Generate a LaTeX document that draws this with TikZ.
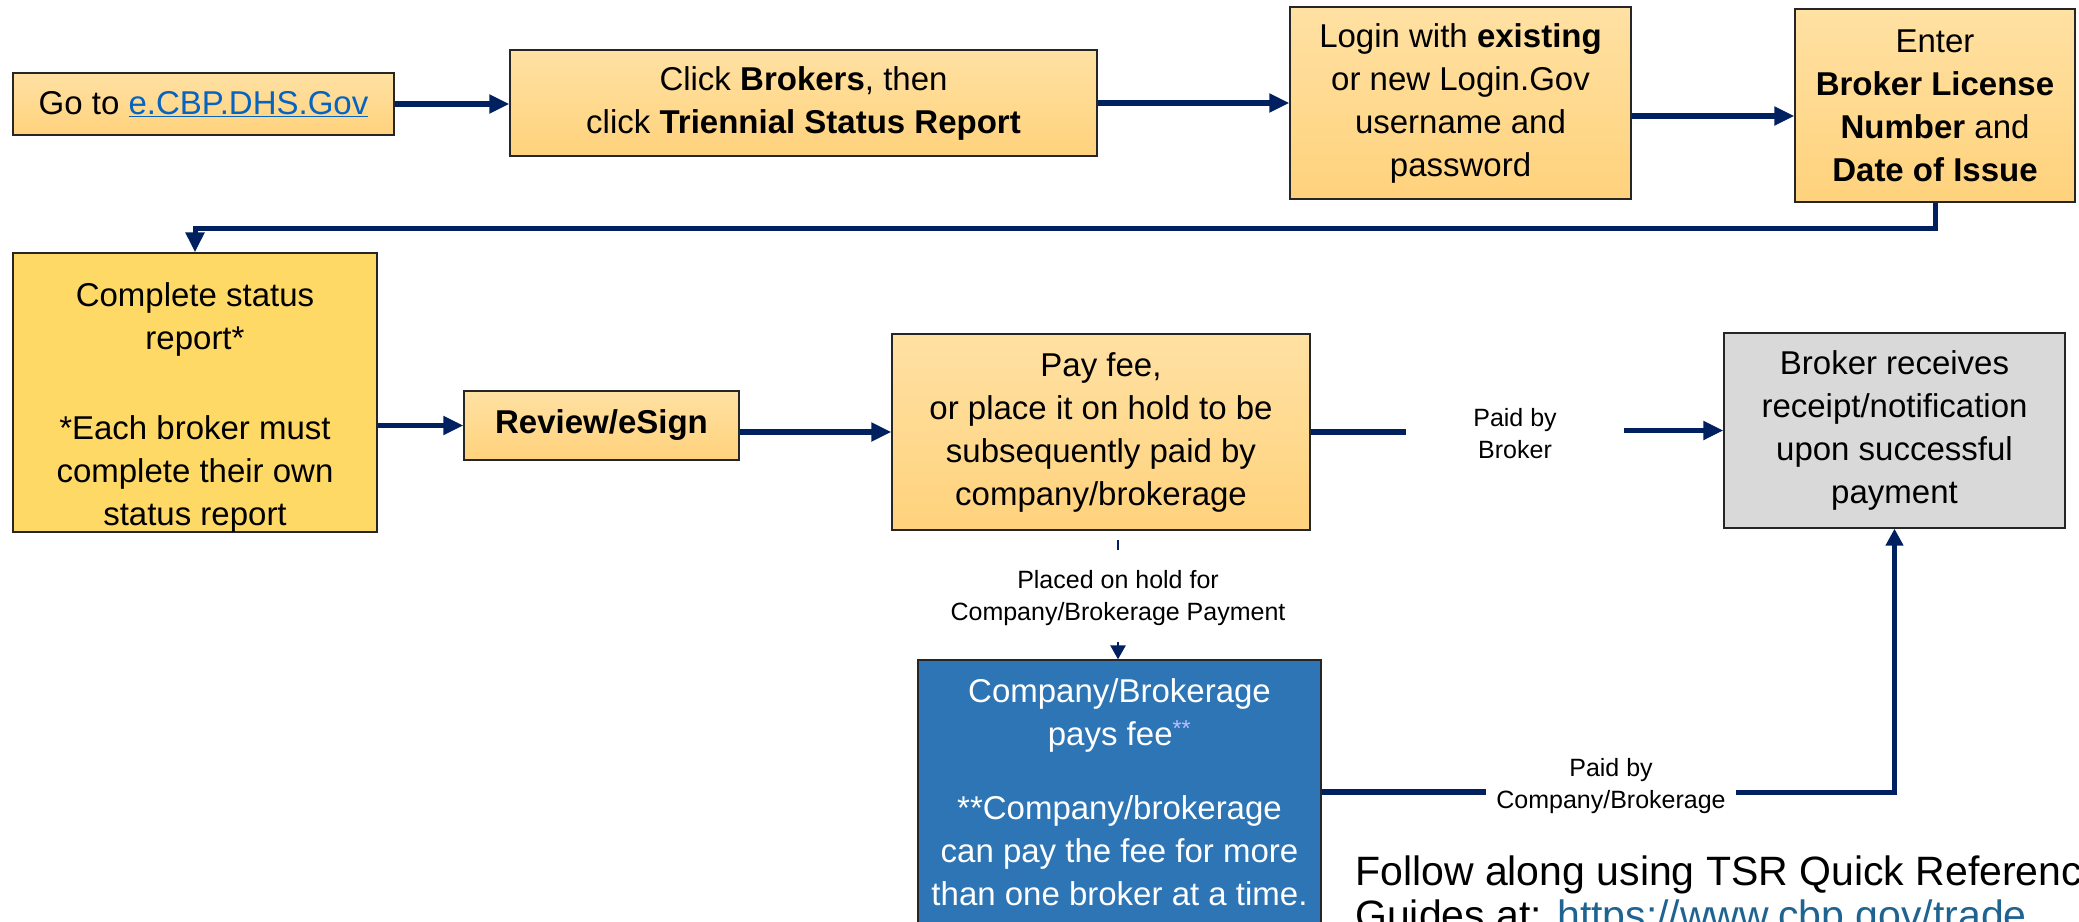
\documentclass[tikz,border=0pt]{standalone}
\usepackage{fontspec}
\setmainfont{Liberation Sans}
\usetikzlibrary{arrows.meta}
\definecolor{navy}{HTML}{002060}
\definecolor{peachT}{HTML}{FFE1A3}
\definecolor{peachB}{HTML}{FFD27C}
\definecolor{goldb}{HTML}{FED966}
\definecolor{greyb}{HTML}{D9D9D9}
\definecolor{blueb}{HTML}{2E75B6}
\definecolor{linkc}{HTML}{0563C1}
\definecolor{linktwo}{HTML}{1F6391}
\definecolor{edgec}{HTML}{262626}
\begin{document}
\begin{tikzpicture}[x=1pt,y=-1pt,
  box/.style={draw=edgec, line width=1.3pt, align=center, inner sep=0pt,
    font=\fontsize{33}{43}\selectfont},
  peach/.style={box, top color=peachT, bottom color=peachB},
  lbl/.style={align=center, inner sep=0pt, font=\fontsize{25}{32}\selectfont},
  flow/.style={draw=navy, line width=5.5pt, -{Triangle[length=20pt,width=18pt]}},
  bar/.style={draw=navy, line width=5.5pt},
  thinbar/.style={draw=navy, line width=2.5pt},
  thinflow/.style={draw=navy, line width=2.5pt, -{Triangle[length=14pt,width=15pt]}},
  upflow/.style={draw=navy, line width=5pt, -{Triangle[length=17pt,width=17pt]}}
]
\useasboundingbox (0,0) rectangle (2079,921);
\clip (0,0) rectangle (2079,921);

\node[peach, minimum width=381pt, minimum height=62pt] (b1) at (203.5,104)
  {Go to \textcolor{linkc}{\underline{e.CBP.DHS.Gov}}};
\node[peach, minimum width=587pt, minimum height=106pt] (b2) at (803.5,103)
  {Click \textbf{Brokers}, then\\click \textbf{Triennial Status Report}};
\node[peach, minimum width=341pt, minimum height=192pt] (b3) at (1460.5,103)
  {Login with \textbf{existing}\\or new Login.Gov\\username and\\password};
\node[peach, minimum width=280pt, minimum height=193pt] (b4) at (1935,105.5)
  {Enter\\\textbf{Broker License}\\\textbf{Number} and\\\textbf{Date of Issue}};
\coordinate (turn) at (0,228);
\node[box, fill=goldb, minimum width=364pt, minimum height=275pt] (b5) at (195,392.5)
  {\mbox{}\\[10pt]Complete status\\report*\\[47pt]*Each broker must\\complete their own\\status report};
\node[peach, minimum width=275pt, minimum height=69pt] (b6) at (601.5,425.5)
  {\textbf{Review/eSign}};
\node[peach, minimum width=418pt, minimum height=196pt] (b7) at (1101,432)
  {Pay fee,\\or place it on hold to be\\subsequently paid by\\company/brokerage};
\node[box, fill=greyb, minimum width=341pt, minimum height=195pt] (b8) at (1894.5,430.5)
  {Broker receives\\receipt/notification\\upon successful\\payment};
\node[box, fill=blueb, text=white, minimum width=403pt, minimum height=264pt] (b9) at (1119.5,792)
  {Company/Brokerage\\pays fee\textsuperscript{\textcolor{blue!25}{**}}\\[31pt]**Company/brokerage\\can pay the fee for more\\than one broker at a time.};

\node[lbl, minimum width=218pt] (lb1) at (1515,434) {Paid by\\Broker};
\node[lbl, minimum height=87pt] (lb2) at (1118,598) {Placed on hold for\\Company/Brokerage Payment};
\node[lbl, minimum width=250pt] (lb3) at (1611,786) {Paid by\\Company/Brokerage};

\node[anchor=north west, inner sep=0pt, align=left, font=\fontsize{41}{44}\selectfont] (ft) at (1355,856)
  {Follow along using TSR Quick Reference\\Guides at: \textcolor{linktwo}{https://www.cbp.gov/trade}};

\draw[flow] (b1.east) -- (b1.east -| b2.west);
\draw[flow] (b2.east) -- (b2.east -| b3.west);
\draw[flow] ([yshift=-13pt]b3.east) -- ([yshift=-13pt]b3.east -| b4.west);
\draw[flow, line width=5pt] (b4.south) -- (b4.south |- turn) -| (b5.north);
\draw[flow] (b6.west -| b5.east) -- (b6.west);
\draw[flow] (b7.west -| b6.east) -- (b7.west);
\draw[bar] (b7.east) -- (b7.east -| lb1.west);
\draw[flow] (lb1.east |- b8.west) -- (b8.west);
\draw[thinbar] ([yshift=-9pt]b7.south -| lb2.north) -- ([yshift=-19pt]b7.south -| lb2.north);
\draw[thinflow] (lb2.south) -- (lb2.south |- b9.north);
\draw[bar] (b9.east) -- (b9.east -| lb3.west);
\draw[upflow] (lb3.east |- b9.east) -| (b8.south);
\end{tikzpicture}
\end{document}
